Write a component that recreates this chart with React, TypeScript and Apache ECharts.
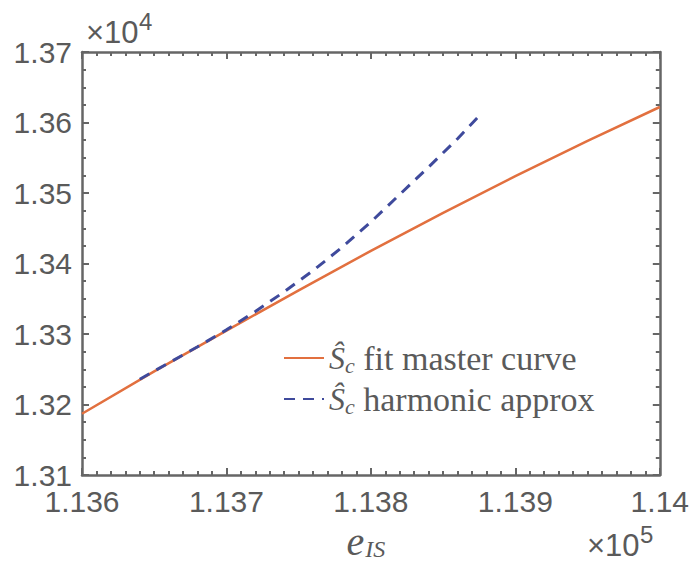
import React, { useEffect, useRef } from "react";
import * as echarts from "echarts";

const masterX = [113600, 113650, 113700, 113750, 113800, 113850, 113900, 113950, 114000];
const masterY = [13187, 13247, 13305, 13362, 13418, 13472, 13524, 13574, 13622];

const harmX = [113640, 113660, 113680, 113700, 113720, 113740, 113760, 113780, 113800, 113820, 113840, 113860, 113877];
const harmY = [13236, 13259, 13282, 13306, 13332, 13360, 13390, 13423, 13459, 13498, 13537, 13577, 13614];

const seriesNames = ["fit master curve", "harmonic approx"];

const AXIS = "#666666";
const TXT = "#5a5a5a";

export default function App() {
  const ref = useRef<HTMLDivElement>(null);
  useEffect(() => {
    if (!ref.current) return;
    const chart = echarts.init(ref.current, undefined, { renderer: "svg" });
    const axisCommon = {
      axisLine: { show: true, lineStyle: { color: AXIS, width: 2.5 } },
      axisTick: { show: true, inside: true, length: 7, lineStyle: { color: AXIS, width: 2 } },
      minorTick: { show: true, length: 4, lineStyle: { color: AXIS, width: 2 } },
      splitLine: { show: false },
    };
    const expo = (x: number, y: number, e: string) => ({
      type: "group",
      children: [
        { type: "text", x, y, style: { text: "×10", font: "31px 'Liberation Sans'", fill: TXT } },
        { type: "text", x: x + 53, y: y - 8, style: { text: e, font: "24px 'Liberation Sans'", fill: TXT } },
      ],
    });
    chart.setOption({
      animation: false,
      grid: { left: 82, right: 32, top: 52, bottom: 88, containLabel: false },
      xAxis: [
        {
          type: "value", min: 113600, max: 114000, interval: 100,
          ...axisCommon,
          minorTick: { ...axisCommon.minorTick, splitNumber: 10 },
          axisLabel: {
            color: TXT, fontSize: 30, fontFamily: "Liberation Sans", margin: 11,
            formatter: (v: number) => String(Number((v / 1e5).toFixed(3))),
          },
          name: "{e|e}{sub|IS}",
          nameLocation: "middle",
          nameGap: 34,
          nameTextStyle: {
            padding: [0, 10, 0, 0],
            rich: {
              e: { fontFamily: "Liberation Serif", fontStyle: "italic", fontSize: 40, color: TXT },
              sub: { fontFamily: "Liberation Serif", fontStyle: "italic", fontSize: 24, color: TXT, verticalAlign: "bottom", padding: [0, 0, 0, 1] },
            },
          },
        },
        {
          type: "value", position: "top", min: 113600, max: 114000, interval: 100,
          ...axisCommon,
          minorTick: { ...axisCommon.minorTick, splitNumber: 10 },
          axisLabel: { show: false },
        },
      ],
      yAxis: [
        {
          type: "value", min: 13100, max: 13700, interval: 100,
          ...axisCommon,
          minorTick: { ...axisCommon.minorTick, splitNumber: 4 },
          axisLabel: {
            color: TXT, fontSize: 30, fontFamily: "Liberation Sans", margin: 10,
            formatter: (v: number) => (v / 1e4).toFixed(2),
          },
        },
        {
          type: "value", position: "right", min: 13100, max: 13700, interval: 100,
          ...axisCommon,
          minorTick: { ...axisCommon.minorTick, splitNumber: 4 },
          axisLabel: { show: false },
        },
      ],
      legend: {
        orient: "vertical",
        left: 278,
        top: 336,
        itemWidth: 40,
        itemHeight: 14,
        itemGap: 6,
        itemStyle: { opacity: 0 },
        data: seriesNames,
        formatter: (name: string) => `{s|Ŝ}{c|c}{t| ${name}}`,
        textStyle: {
          rich: {
            s: { fontFamily: "Liberation Serif", fontStyle: "italic", fontSize: 32, color: TXT },
            c: { fontFamily: "Liberation Serif", fontStyle: "italic", fontSize: 22, color: TXT, verticalAlign: "bottom", padding: [14, 0, 0, 0] },
            t: { fontFamily: "Liberation Serif", fontSize: 34, color: TXT },
          },
        },
      },
      graphic: [expo(86, 17, "4"), expo(587, 530, "5")],
      series: [
        {
          name: seriesNames[0], type: "line", showSymbol: false, symbol: "none",
          data: masterX.map((x, i) => [x, masterY[i]]),
          lineStyle: { color: "#E2703F", width: 2.5 },
          itemStyle: { color: "#E2703F" },
        },
        {
          name: seriesNames[1], type: "line", showSymbol: false, symbol: "none",
          data: harmX.map((x, i) => [x, harmY[i]]),
          lineStyle: { color: "#3F4A9C", width: 3, type: [11, 8] },
          itemStyle: { color: "#3F4A9C" },
        },
      ],
    });
    return () => chart.dispose();
  }, []);
  return <div ref={ref} style={{ width: 692, height: 566, position: "absolute", left: 0, top: 0 }} />;
}
